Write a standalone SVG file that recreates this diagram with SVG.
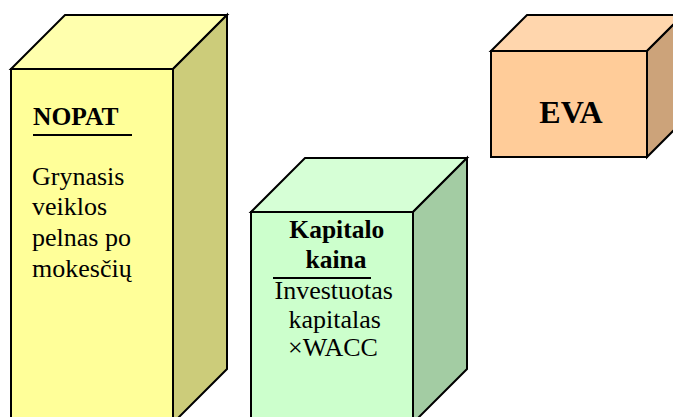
<svg xmlns="http://www.w3.org/2000/svg" width="673" height="417" viewBox="0 0 673 417">
  <style>
    .edge { stroke: #000; stroke-width: 2; stroke-linejoin: miter; }
    .t { font-family: "Liberation Serif", "Times New Roman", serif; fill: #000; }
    .b { font-weight: bold; }
    .rule { stroke: #000; stroke-width: 2; }
    .y-front { fill: #FFFF99; } .y-top { fill: #FFFFAD; } .y-side { fill: #CCCC7A; }
    .g-front { fill: #CCFFCC; } .g-top { fill: #D6FFD6; } .g-side { fill: #A3CCA3; }
    .o-front { fill: #FFCC99; } .o-top { fill: #FFD6AD; } .o-side { fill: #CCA37A; }
  </style>
  <rect width="673" height="417" fill="#fff"/>

  <!-- NOPAT block -->
  <g id="nopat">
    <polygon class="y-top edge" points="11,69 65,15 227,15 173,69"/>
    <polygon class="y-side edge" points="173,69 227,15 227,369 173,423"/>
    <rect class="y-front edge" x="11" y="69" width="162" height="354"/>
    <text class="t b" x="33" y="125" font-size="25.5">NOPAT</text>
    <line class="rule" x1="33" y1="135" x2="132" y2="135"/>
    <text class="t" font-size="26">
      <tspan x="32" y="185">Grynasis</tspan>
      <tspan x="32" y="215">veiklos</tspan>
      <tspan x="32" y="246">pelnas po</tspan>
      <tspan x="32" y="277">mokesčių</tspan>
    </text>
  </g>

  <!-- Capital charge block -->
  <g id="kapitalo-kaina">
    <polygon class="g-top edge" points="251,212 305,158 467,158 413,212"/>
    <polygon class="g-side edge" points="413,212 467,158 467,369 413,423"/>
    <rect class="g-front edge" x="251" y="212" width="162" height="211"/>
    <text class="t b" font-size="25.5" text-anchor="middle">
      <tspan x="340" y="238">Kapitalo</tspan>
      <tspan x="336" y="268">kaina</tspan>
    </text>
    <line class="rule" x1="273" y1="278" x2="371" y2="278"/>
    <text class="t" font-size="26" text-anchor="middle">
      <tspan x="337" y="299">Investuotas</tspan>
      <tspan x="338" y="328">kapitalas</tspan>
      <tspan x="333" y="356">×WACC</tspan>
    </text>
  </g>

  <!-- EVA block -->
  <g id="eva">
    <polygon class="o-top edge" points="491,51 527,15 683,15 647,51"/>
    <polygon class="o-side edge" points="647,51 683,15 683,121 647,157"/>
    <rect class="o-front edge" x="491" y="51" width="156" height="106"/>
    <text class="t b" x="571" y="123" font-size="32" text-anchor="middle">EVA</text>
  </g>
</svg>
